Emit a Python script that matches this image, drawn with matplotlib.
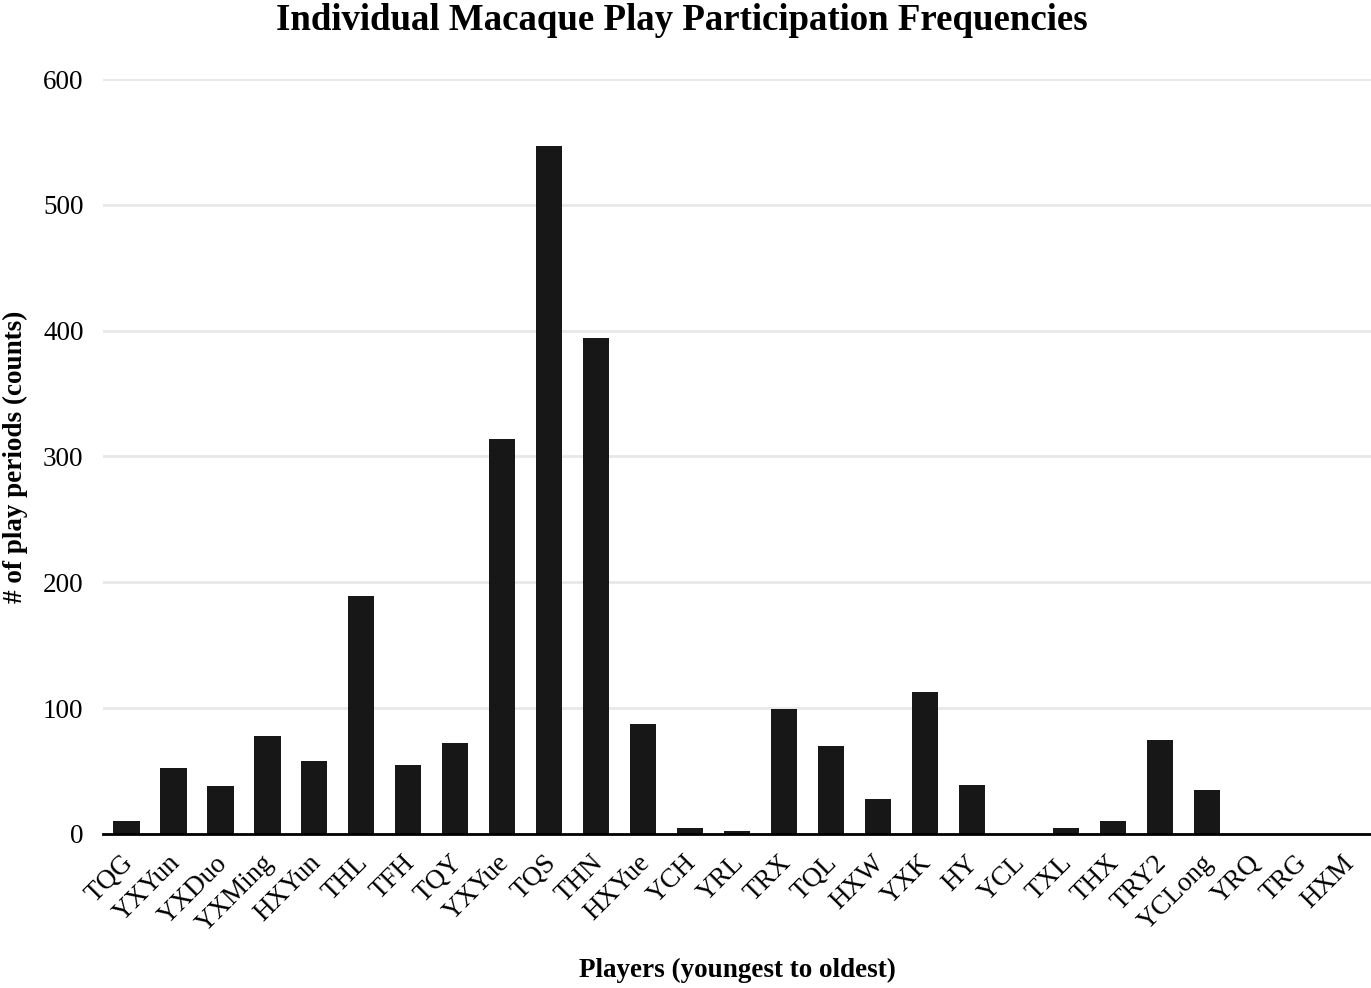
import numpy as np
import matplotlib.pyplot as plt
from matplotlib.transforms import ScaledTranslation

players = [
    "TQG", "YXYun", "YXDuo", "YXMing", "HXYun", "THL", "TFH", "TQY", "YXYue",
    "TQS", "THN", "HXYue", "YCH", "YRL", "TRX", "TQL", "HXW", "YXK", "HY",
    "YCL", "TXL", "THX", "TRY2", "YCLong", "YRQ", "TRG", "HXM",
]
counts = [
    10, 52, 38, 78, 58, 189, 55, 72, 314,
    547, 394, 87, 5, 2, 99, 70, 28, 113, 39,
    0, 5, 10, 75, 35, 0, 0, 0,
]

plt.rcParams["font.family"] = ["Liberation Serif", "DejaVu Serif"]

fig = plt.figure(figsize=(13.71, 9.88), dpi=100)
ax = fig.add_axes([0.0751, 0.156, 0.925, 0.764])

x = np.arange(len(players))
ax.bar(x, counts, width=0.56, color="#171717", zorder=3)

ax.set_xlim(-0.5, len(players) - 0.5)
ax.set_ylim(0, 600)
ax.set_yticks(np.arange(0, 601, 100))
ax.yaxis.grid(True, color="#e8e8e8", lw=2)
ax.set_axisbelow(True)

for s in ["top", "right", "left"]:
    ax.spines[s].set_visible(False)
ax.spines["bottom"].set_linewidth(2)
ax.spines["bottom"].set_zorder(4)
ax.tick_params(length=0)
ax.tick_params(axis="y", labelsize=19.5, pad=14)
ax.set_xticks(x)
ax.set_xticklabels(players, rotation=45, ha="right", rotation_mode="anchor",
                   fontsize=19.5)
ax.tick_params(axis="x", pad=12)
shift = ScaledTranslation(-6 / 100, 0, fig.dpi_scale_trans)
for lab in ax.get_xticklabels():
    lab.set_transform(lab.get_transform() + shift)

fig.text(737 / 1371, 1 - 970 / 988, "Players (youngest to oldest)",
         fontsize=19.5, fontweight="bold", ha="center", va="center")
fig.text(15 / 1371, 1 - 457 / 988, "# of play periods (counts)",
         fontsize=19.5, fontweight="bold", ha="center", va="center",
         rotation=90)
fig.text(682 / 1371, 1 - 20 / 988,
         "Individual Macaque Play Participation Frequencies",
         fontsize=26.6, fontweight="bold", ha="center", va="center")

fig.savefig("out.png", dpi=100)
